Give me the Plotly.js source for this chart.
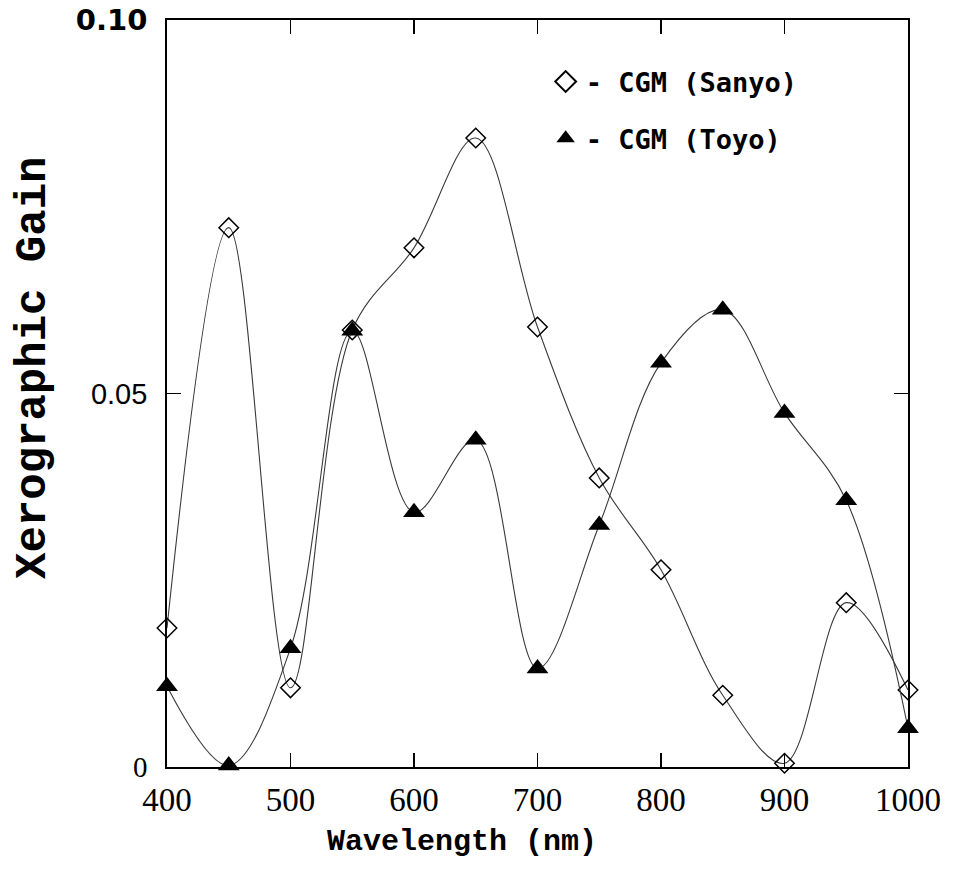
<!DOCTYPE html>
<html>
<head>
<meta charset="utf-8">
<script src="https://cdn.plot.ly/plotly-3.0.1.min.js"></script>
<style>
  html, body { margin: 0; padding: 0; background: #fff; }
  #chart { width: 978px; height: 893px; }
</style>
</head>
<body>
<div id="chart"></div>
<script>
// Wavelength (nm)
var wavelengths = [400, 450, 500, 550, 600, 650, 700, 750, 800, 850, 900, 950, 1000];
// Xerographic gain, CGM (Sanyo)
var sanyoGain = [0.0186, 0.0722, 0.0106, 0.0585, 0.0695, 0.0842, 0.0589, 0.0387, 0.0264, 0.0096, 0.0005, 0.0220, 0.0103];
// Xerographic gain, CGM (Toyo)
var toyoGain = [0.0108, 0.0002, 0.0159, 0.0584, 0.0341, 0.0438, 0.0132, 0.0324, 0.0541, 0.0612, 0.0474, 0.0357, 0.0052];

var xTickVals = [400, 500, 600, 700, 800, 900, 1000];
var xTickText = ['400', '500', '600', '700', '800', '900', '1000'];
var yTickVals = [0, 0.05, 0.10];
var yTickText = ['<span style="font-family:Liberation Serif">0</span>', '0.05', '<span style="font-family:DejaVu Sans;font-weight:bold">0.10</span>'];

var lineColor = '#3a3a3a';

var traces = [
  {
    x: wavelengths, y: sanyoGain, type: 'scatter', mode: 'lines+markers',
    line: {shape: 'spline', smoothing: 1, color: lineColor, width: 1.1},
    marker: {symbol: 'diamond-open', size: 15, color: '#000', line: {width: 1.5, color: '#000'}},
    showlegend: false, cliponaxis: false
  },
  {
    x: wavelengths, y: toyoGain, type: 'scatter', mode: 'lines+markers',
    line: {shape: 'spline', smoothing: 1, color: lineColor, width: 1.1},
    marker: {symbol: 'triangle-up', size: 19, color: '#000'},
    showlegend: false, cliponaxis: false
  },
  {
    x: [null], y: [null], type: 'scatter', mode: 'markers', name: '- CGM (Sanyo)',
    marker: {symbol: 'diamond-open', size: 16, color: '#000', line: {width: 2, color: '#000'}},
    legend: 'legend'
  },
  {
    x: [null], y: [null], type: 'scatter', mode: 'markers', name: '- CGM (Toyo)',
    marker: {symbol: 'triangle-up', size: 16, color: '#000'},
    legend: 'legend2'
  }
];

var legendFont = {family: 'DejaVu Sans Mono', size: 27, color: '#000', weight: 'bold'};

var layout = {
  width: 978, height: 893,
  margin: {l: 167, r: 70, t: 20, b: 126},
  paper_bgcolor: '#fff', plot_bgcolor: '#fff',
  xaxis: {
    range: [400, 1000], tickmode: 'array', tickvals: xTickVals, ticktext: xTickText,
    ticks: 'inside', ticklen: 14, tickwidth: 1.5, tickcolor: '#000',
    showline: true, linecolor: '#000', linewidth: 1.8, mirror: 'ticks',
    showgrid: false, zeroline: false,
    tickfont: {family: 'Liberation Serif', size: 33, color: '#000'},
    ticklabelstandoff: 3
  },
  yaxis: {
    range: [0, 0.10], tickmode: 'array', tickvals: yTickVals, ticktext: yTickText,
    ticks: 'inside', ticklen: 14, tickwidth: 1.5, tickcolor: '#000',
    showline: true, linecolor: '#000', linewidth: 1.8, mirror: 'ticks',
    showgrid: false, zeroline: false,
    tickfont: {family: 'Liberation Sans', size: 29, color: '#000'},
    ticklabelstandoff: 12
  },
  legend: {
    x: 0.511, y: 0.917, xanchor: 'left', yanchor: 'middle',
    bgcolor: 'rgba(0,0,0,0)', borderwidth: 0, font: legendFont, itemsizing: 'trace'
  },
  legend2: {
    x: 0.511, y: 0.841, xanchor: 'left', yanchor: 'middle',
    bgcolor: 'rgba(0,0,0,0)', borderwidth: 0, font: legendFont, itemsizing: 'trace'
  },
  annotations: [
    {
      text: 'Wavelength (nm)', xref: 'paper', yref: 'paper', x: 0.398, y: -0.1,
      xanchor: 'center', yanchor: 'middle', showarrow: false,
      font: {family: 'Liberation Mono', size: 30, color: '#000', weight: 'bold'}
    },
    {
      text: 'Xerographic Gain', xref: 'paper', yref: 'paper', x: -0.181, y: 0.534,
      xanchor: 'center', yanchor: 'middle', showarrow: false, textangle: -90,
      font: {family: 'Liberation Mono', size: 44, color: '#000', weight: 'bold'}
    }
  ],
  showlegend: true
};

Plotly.newPlot('chart', traces, layout, {staticPlot: true, displayModeBar: false});
</script>
</body>
</html>
